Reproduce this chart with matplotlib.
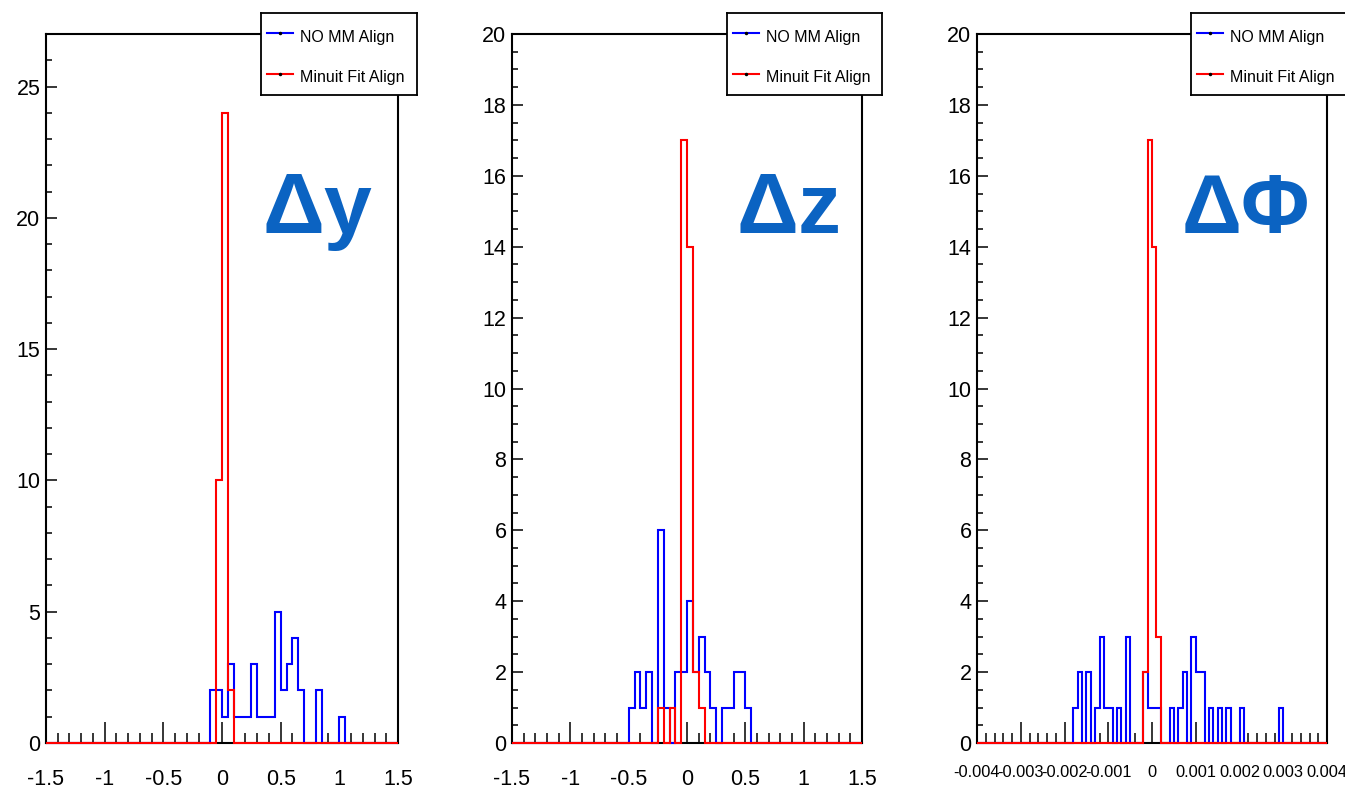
import numpy as np
import matplotlib
matplotlib.use("Agg")
import matplotlib.pyplot as plt
from matplotlib.ticker import MultipleLocator, FixedLocator, FixedFormatter

plt.rcParams['font.family'] = ['Liberation Sans', 'DejaVu Sans']

# ---------------- data (bin lower edges and counts) ----------------
legend_labels = ["NO MM Align", "Minuit Fit Align"]
panel_titles = ["\u0394y", "\u0394z", "\u0394\u03a6"]

# Delta y : 60 bins in [-1.5, 1.5]
dy_blue_lo = [-0.10, -0.05, 0.00, 0.05, 0.10, 0.15, 0.20, 0.25, 0.30, 0.35,
              0.40, 0.45, 0.50, 0.55, 0.60, 0.65, 0.80, 1.00]
dy_blue_n = [2, 2, 1, 3, 1, 1, 1, 3, 1, 1, 1, 5, 2, 3, 4, 2, 2, 1]
dy_red_lo = [-0.05, 0.00, 0.05]
dy_red_n = [10, 24, 2]

# Delta z : 60 bins in [-1.5, 1.5]
dz_blue_lo = [-0.50, -0.45, -0.40, -0.35, -0.25, -0.20, -0.10, -0.05, 0.00,
              0.05, 0.10, 0.15, 0.20, 0.30, 0.35, 0.40, 0.45, 0.50]
dz_blue_n = [1, 2, 1, 2, 6, 1, 2, 2, 4, 2, 3, 2, 1, 1, 1, 2, 2, 1]
dz_red_lo = [-0.25, -0.15, -0.05, 0.00, 0.05, 0.10]
dz_red_n = [1, 1, 17, 14, 2, 1]

# Delta Phi : 80 bins in [-0.004, 0.004]
dphi_blue_lo = [-0.0018, -0.0017, -0.0015, -0.0013, -0.0012, -0.0011, -0.0010,
                -0.0008, -0.0006, -0.0002, -0.0001, 0.0000, 0.0001, 0.0004,
                0.0006, 0.0007, 0.0009, 0.0010, 0.0011, 0.0013, 0.0015, 0.0017,
                0.0020, 0.0029]
dphi_blue_n = [1, 2, 2, 1, 3, 1, 1, 1, 3, 2, 1, 1, 1, 1, 1, 2, 3, 2, 2, 1, 1, 1, 1, 1]
dphi_red_lo = [-0.0002, -0.0001, 0.0000, 0.0001]
dphi_red_n = [2, 17, 14, 3]

xlabels_pos = [-1.5, -1, -0.5, 0, 0.5, 1, 1.5]
xlabels_txt = ["-1.5", "-1", "-0.5", "0", "0.5", "1", "1.5"]
phi_labels_pos = [-0.004, -0.003, -0.002, -0.001, 0, 0.001, 0.002, 0.003, 0.004]
phi_labels_txt = ["-0.004", "-0.003", "-0.002", "-0.001", "0", "0.001", "0.002", "0.003", "0.004"]

BLUE = "#0000ff"
RED = "#ff0000"
TITLE_C = "#0b63c2"

W, H = 1345, 789
fig = plt.figure(figsize=(W / 100, H / 100), dpi=100)
fig.patch.set_facecolor("white")


def px_rect(l, t, r, b):
    return [l / W, 1 - b / H, (r - l) / W, (b - t) / H]


panels = [
    dict(rect=px_rect(46, 34, 398, 743), xr=(-1.5, 1.5), nb=60, ymax=27,
         ymaj=5, ymin=1, xmaj=0.5, xmin=0.1,
         blue=(dy_blue_lo, dy_blue_n), red=(dy_red_lo, dy_red_n),
         xt=(xlabels_pos, xlabels_txt), xfs=15.5, xpad=19,
         leg=(261, 13, 417, 95), title_xy=(263, 233), tfs=62),
    dict(rect=px_rect(512, 34, 862, 743), xr=(-1.5, 1.5), nb=60, ymax=20,
         ymaj=2, ymin=0.5, xmaj=0.5, xmin=0.1,
         blue=(dz_blue_lo, dz_blue_n), red=(dz_red_lo, dz_red_n),
         xt=(xlabels_pos, xlabels_txt), xfs=15.5, xpad=19,
         leg=(727, 13, 882, 95), title_xy=(737, 233), tfs=62),
    dict(rect=px_rect(977, 34, 1327, 743), xr=(-0.004, 0.004), nb=80, ymax=20,
         ymaj=2, ymin=0.5, xmaj=0.001, xmin=0.0002,
         blue=(dphi_blue_lo, dphi_blue_n), red=(dphi_red_lo, dphi_red_n),
         xt=(phi_labels_pos, phi_labels_txt), xfs=11.8, xpad=16,
         leg=(1191, 13, 1346, 95), title_xy=(1182, 233), tfs=60),
]

for i, p in enumerate(panels):
    ax = fig.add_axes(p["rect"])
    edges = np.linspace(p["xr"][0], p["xr"][1], p["nb"] + 1)
    bw = edges[1] - edges[0]
    for (lo, n), col in ((p["blue"], BLUE), (p["red"], RED)):
        centers = np.asarray(lo) + bw / 2
        vals, _ = np.histogram(centers, bins=edges, weights=n)
        ax.stairs(vals, edges, color=col, lw=1.5, zorder=3, clip_on=False)
    ax.set_xlim(*p["xr"])
    ax.set_ylim(0, p["ymax"])
    for s in ax.spines.values():
        s.set_linewidth(1.5)
        s.set_color("black")
    ax.yaxis.set_major_locator(MultipleLocator(p["ymaj"]))
    ax.yaxis.set_minor_locator(MultipleLocator(p["ymin"]))
    ax.xaxis.set_major_locator(FixedLocator(p["xt"][0]))
    ax.xaxis.set_major_formatter(FixedFormatter(p["xt"][1]))
    ax.xaxis.set_minor_locator(MultipleLocator(p["xmin"]))
    ax.tick_params(axis="both", which="both", direction="in", top=False, right=False,
                   color="black", width=1.1)
    ax.tick_params(axis="y", which="major", length=8, labelsize=15.5, pad=4)
    ax.tick_params(axis="y", which="minor", length=4.3)
    ax.tick_params(axis="x", which="major", length=15, labelsize=p["xfs"], pad=p["xpad"])
    ax.tick_params(axis="x", which="minor", length=7.2)
    ax.set_facecolor("white")

    # legend box
    l, t, r, b = p["leg"]
    lax = fig.add_axes(px_rect(l, t, r, b))
    lax.set_xlim(0, 1)
    lax.set_ylim(0, 1)
    lax.set_xticks([])
    lax.set_yticks([])
    for s in lax.spines.values():
        s.set_linewidth(1.3)
        s.set_color("black")
    for lab, col, yy, ty in ((legend_labels[0], BLUE, 0.755, 0.705),
                             (legend_labels[1], RED, 0.255, 0.215)):
        lax.plot([0.04, 0.205], [yy, yy], color=col, lw=1.5)
        lax.plot([0.122], [yy], marker="o", ms=1.5, color="black")
        lax.text(0.25, ty, lab, fontsize=11.5, va="center", ha="left")

    tx, ty = p["title_xy"]
    fig.text(tx / W, 1 - ty / H, panel_titles[i], fontsize=p["tfs"], fontweight="bold",
             color=TITLE_C, ha="left", va="baseline")

fig.savefig("out.png", dpi=100, facecolor="white")
